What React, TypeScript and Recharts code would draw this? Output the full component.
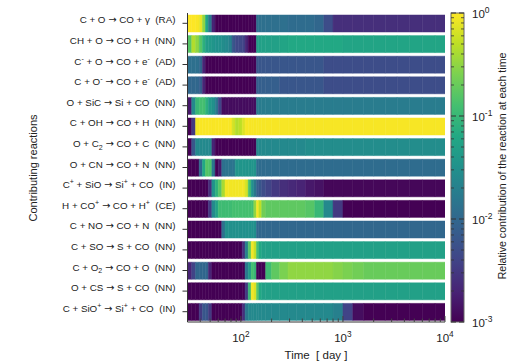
import { BarChart, Bar, Cell, XAxis, YAxis } from "recharts"

// bin edges in days (segment i spans TIME_EDGES[i] .. TIME_EDGES[i + 1])
const TIME_EDGES = [
  30, 33, 36, 39, 42, 45, 48, 52, 56, 60, 65, 70, 76, 82, 88, 95, 103, 110, 118, 126, 134, 142, 150, 160, 175, 200, 240,
  290, 350, 430, 530, 650, 800, 1000, 1250, 1600, 2000, 2600, 3400, 4500, 6000, 8000, 10000,
]

// ^x = superscript, _x = subscript
const REACTIONS = [
  "C + O → CO + γ  (RA)",
  "CH + O → CO + H  (NN)",
  "C^- + O → CO + e^-  (AD)",
  "C + O^- → CO + e^-  (AD)",
  "O + SiC → Si + CO  (NN)",
  "C + OH → CO + H  (NN)",
  "O + C_2 → CO + C  (NN)",
  "O + CN → CO + N  (NN)",
  "C^+ + SiO → Si^+ + CO  (IN)",
  "H + CO^+ → CO + H^+  (CE)",
  "C + NO → CO + N  (NN)",
  "C + SO → S + CO  (NN)",
  "C + O_2 → CO + O  (NN)",
  "O + CS → S + CO  (NN)",
  "C + SiO^+ → Si^+ + CO  (IN)",
]

// log10 of the relative contribution in each time bin
const C_O_RA = [0, 0, -0.02, -0.1, -0.5, -1.2, -1.8, -2.7, -3, -3, -3, -3, -3, -3, -3, -3, -3, -3, -3, -3, -3, -1.9, -1.9, -1.9, -1.9, -1.9, -1.9, -1.95, -1.95, -1.95, -2.0, -2.3, -2.6, -2.6, -2.6, -2.6, -2.6, -2.6, -2.6, -2.6, -2.6, -2.6]
const CH_O_NN = [-0.8, -0.35, -0.5, -0.8, -1.1, -1.35, -1.4, -1.45, -1.5, -1.5, -1.55, -1.6, -1.7, -2.2, -2.35, -2.35, -2.4, -2.7, -3, -3, -3, -1.3, -1.3, -1.3, -1.3, -1.3, -1.25, -1.2, -1.2, -1.2, -1.2, -1.2, -1.2, -1.25, -1.25, -1.25, -1.25, -1.25, -1.25, -1.25, -1.25, -1.25]
const Cm_O_AD = [-1.9, -1.9, -1.9, -2.0, -2.7, -3, -3, -3, -3, -3, -3, -3, -3, -3, -3, -3, -3, -3, -3, -3, -3, -2.2, -2.2, -2.2, -2.2, -2.2, -2.2, -2.2, -2.2, -2.2, -2.2, -2.3, -2.3, -2.3, -2.3, -2.3, -2.3, -2.3, -2.3, -2.3, -2.3, -2.3]
const C_Om_AD = [-2.0, -2.0, -2.0, -2.1, -2.7, -3, -3, -3, -3, -3, -3, -3, -3, -3, -3, -3, -3, -3, -3, -3, -3, -2.1, -2.1, -2.1, -2.1, -2.1, -2.2, -2.2, -2.2, -2.2, -2.2, -2.3, -2.3, -2.3, -2.3, -2.3, -2.3, -2.3, -2.3, -2.3, -2.3, -2.3]
const O_SiC_NN = [-2.8, -1.6, -1.0, -0.9, -0.9, -1.1, -1.4, -1.5, -1.8, -2.4, -2.9, -2.9, -2.9, -2.9, -2.9, -2.9, -2.9, -2.9, -2.9, -2.9, -2.9, -1.75, -1.75, -1.75, -1.75, -1.75, -1.75, -1.75, -1.75, -1.75, -1.75, -1.75, -1.75, -1.75, -1.75, -1.75, -1.75, -1.75, -1.75, -1.75, -1.75, -1.75]
const C_OH_NN = [-3, -2.5, -0.05, -0.02, -0.02, -0.02, -0.02, -0.02, -0.02, -0.02, -0.02, -0.02, -0.02, -0.2, -0.35, -0.3, -0.15, -0.03, -0.03, -0.03, -0.03, -0.03, -0.03, -0.03, -0.03, -0.03, -0.03, -0.03, -0.03, -0.03, -0.03, -0.03, -0.03, -0.03, -0.03, -0.03, -0.03, -0.03, -0.03, -0.03, -0.03, -0.03]
const O_C2_NN = [-3, -2.2, -1.6, -1.6, -1.6, -1.6, -1.6, -2.7, -3, -3, -3, -3, -3, -3, -3, -3, -3, -3, -3, -3, -3, -1.6, -1.6, -1.6, -1.6, -1.6, -1.6, -1.6, -1.6, -1.55, -1.55, -1.55, -1.55, -1.55, -1.55, -1.55, -1.55, -1.55, -1.55, -1.55, -1.55, -1.55]
const O_CN_NN = [-3, -3, -3, -2.0, -1.2, -0.8, -0.85, -1.8, -3, -2.8, -1.9, -1.85, -1.85, -1.85, -1.45, -1.45, -1.45, -1.45, -1.45, -1.45, -1.45, -1.95, -1.95, -1.95, -1.95, -1.95, -1.95, -1.95, -1.95, -1.95, -1.95, -1.95, -1.95, -1.95, -1.95, -1.95, -1.95, -1.95, -1.95, -1.95, -1.95, -1.95]
const Cp_SiO_IN = [-3, -3, -3, -3, -3, -3, -2.6, -1.5, -1.1, -0.8, -0.4, -0.05, -0.05, -0.05, -0.05, -0.05, -0.05, -0.2, -0.9, -1.5, -1.8, -2.1, -2.2, -2.3, -2.4, -2.5, -2.6, -2.65, -2.7, -2.8, -2.85, -2.95, -2.95, -2.95, -2.95, -2.95, -2.95, -2.95, -2.95, -2.95, -2.95, -2.95]
const H_COp_CE = [-3, -3, -3, -3, -3, -3, -2.5, -1.6, -1.3, -0.95, -0.95, -0.95, -0.95, -0.9, -0.9, -0.9, -0.9, -0.9, -0.9, -0.9, -0.5, -0.05, -0.3, -0.65, -0.75, -0.75, -0.75, -0.75, -0.75, -0.8, -1.0, -1.6, -2.5, -3, -3, -3, -3, -3, -3, -3, -3, -3]
const C_NO_NN = [-3, -3, -3, -3, -3, -3, -3, -3, -3, -3, -1.9, -1.5, -1.5, -1.5, -1.5, -1.5, -1.5, -1.5, -1.5, -1.5, -1.5, -2.0, -2.0, -2.0, -2.0, -2.0, -2.0, -2.0, -2.0, -2.0, -2.0, -2.0, -2.0, -2.0, -2.0, -2.0, -2.0, -2.0, -2.0, -2.0, -2.0, -2.0]
const C_SO_NN = [-3, -3, -3, -3, -3, -3, -3, -3, -3, -3, -3, -3, -3, -3, -3, -3, -2.6, -1.7, -0.8, -0.05, -0.25, -0.9, -1.2, -1.3, -1.3, -1.3, -1.3, -1.3, -1.3, -1.3, -1.3, -1.3, -1.3, -1.3, -1.3, -1.3, -1.3, -1.3, -1.3, -1.3, -1.3, -1.3]
const C_O2_NN = [-2.7, -2.4, -2.0, -2.0, -2.0, -2.0, -2.7, -3, -3, -3, -3, -3, -3, -3, -3, -3, -3, -1.8, -1.4, -0.9, -1.0, -3, -3, -3, -0.95, -0.75, -0.6, -0.5, -0.5, -0.5, -0.5, -0.5, -0.55, -0.6, -0.65, -0.7, -0.7, -0.7, -0.7, -0.7, -0.7, -0.7]
const O_CS_NN = [-3, -3, -3, -3, -3, -3, -3, -3, -3, -3, -3, -3, -3, -3, -3, -3, -3, -2.5, -1.0, -0.05, -0.15, -0.8, -1.2, -1.3, -1.3, -1.3, -1.3, -1.3, -1.3, -1.3, -1.3, -1.3, -1.3, -1.3, -1.3, -1.3, -1.3, -1.3, -1.3, -1.3, -1.3, -1.3]
const C_SiOp_IN = [-3, -3, -3, -2.5, -2.2, -2.2, -2.5, -3, -3, -3, -3, -3, -3, -3, -3, -3, -2.6, -1.8, -1.6, -1.6, -1.6, -1.6, -1.6, -1.6, -1.6, -1.6, -1.6, -1.6, -1.6, -1.6, -1.6, -1.6, -1.7, -2.4, -2.9, -3, -3, -3, -3, -3, -3, -3]

const CONTRIBUTIONS = [C_O_RA, CH_O_NN, Cm_O_AD, C_Om_AD, O_SiC_NN, C_OH_NN, O_C2_NN, O_CN_NN, Cp_SiO_IN, H_COp_CE, C_NO_NN, C_SO_NN, C_O2_NN, O_CS_NN, C_SiOp_IN]

const MAJOR_TICKS = [100, 1000, 10000]
const MINOR_TICKS = [40, 50, 60, 70, 80, 90, 200, 300, 400, 500, 600, 700, 800, 900, 2000, 3000, 4000, 5000, 6000, 7000, 8000, 9000]
const COLORBAR_EXPONENTS = [0, -1, -2, -3]

const VIRIDIS = ["#440154", "#482475", "#414487", "#355f8d", "#2a788e", "#21918c", "#22a884", "#44bf70", "#7ad151", "#bddf26", "#fde725"]

const FONT = "'Liberation Sans', Arial, Helvetica, sans-serif"
const ARROW_FONT = "'DejaVu Sans', sans-serif"

function hexRgb(h: string) {
  return [1, 3, 5].map((i) => parseInt(h.slice(i, i + 2), 16))
}

function viridis(t: number) {
  const v = Math.max(0, Math.min(1, t)) * (VIRIDIS.length - 1)
  const i = Math.min(Math.floor(v), VIRIDIS.length - 2)
  const f = v - i
  const a = hexRgb(VIRIDIS[i])
  const b = hexRgb(VIRIDIS[i + 1])
  const c = a.map((x, k) => Math.round(x + (b[k] - x) * f))
  return `rgb(${c[0]},${c[1]},${c[2]})`
}

const logColor = (lg: number) => viridis((lg + 3) / 3)

type Tok = { t: string; k: "n" | "sup" | "sub" | "arrow" }

function tokens(label: string) {
  const out: Tok[] = []
  let cur = ""
  const flush = () => {
    if (cur) out.push({ t: cur, k: "n" })
    cur = ""
  }
  for (let i = 0; i < label.length; i++) {
    const c = label[i]
    if ((c === "^" || c === "_") && i + 1 < label.length) {
      flush()
      out.push({ t: label[i + 1], k: c === "^" ? "sup" : "sub" })
      i++
    } else if (c === "→") {
      flush()
      out.push({ t: c, k: "arrow" })
    } else cur += c
  }
  flush()
  return out
}

function RichSpans({ label, size }: { label: string; size: number }) {
  let offset = 0
  return (
    <>
      {tokens(label).map((tk, i) => {
        const target = tk.k === "sup" ? -size * 0.4 : tk.k === "sub" ? size * 0.3 : 0
        const dy = target - offset
        offset = target
        const small = tk.k === "sup" || tk.k === "sub"
        return (
          <tspan key={i} dy={dy} fontSize={small ? size * 0.72 : size} fontFamily={tk.k === "arrow" ? ARROW_FONT : undefined}>
            {tk.t}
          </tspan>
        )
      })}
    </>
  )
}

function ReactionTick(props: any) {
  const { x, y, payload } = props
  return (
    <text x={x} y={y} dy={3.5} textAnchor="end" fill="#222" fontFamily={FONT} fontSize={9.8} xmlSpace="preserve">
      <RichSpans label={payload.value} size={9.8} />
    </text>
  )
}

function makeTimeTick(side: "top" | "bottom") {
  return (props: any) => {
    const { x, y, payload } = props
    const major = MAJOR_TICKS.includes(payload.value)
    const len = major ? 6 : 3.5
    const dir = side === "bottom" ? -1 : 1
    return (
      <g>
        <line x1={x} y1={y} x2={x} y2={y + dir * len} stroke="#444" strokeWidth={1} />
        {major && side === "bottom" && (
          <text x={x} y={y + 20} textAnchor="middle" fill="#222" fontFamily={FONT} fontSize={11.5}>
            <RichSpans label={`10^${Math.round(Math.log10(payload.value))}`} size={11.5} />
          </text>
        )}
      </g>
    )
  }
}

const BottomTick = makeTimeTick("bottom")
const TopTick = makeTimeTick("top")

const ALL_TICKS = [...MINOR_TICKS, ...MAJOR_TICKS].sort((a, b) => a - b)

// colour bar geometry
const CB_X = 451
const CB_W = 13
const CB_TOP = 13
const CB_BOTTOM = 322
const cbY = (lg: number) => CB_BOTTOM - ((lg + 3) / 3) * (CB_BOTTOM - CB_TOP)

export default function App() {
  const rows = REACTIONS.map((name, i) => ({ name, contrib: CONTRIBUTIONS[i] }))
  const bins = TIME_EDGES.slice(0, -1)

  const cbMinor: number[] = []
  for (let d = -3; d < 0; d++) for (let k = 2; k <= 9; k++) cbMinor.push(d + Math.log10(k))

  return (
    <div style={{ position: "absolute", left: 0, top: 0, width: 518, height: 363, background: "#fff" }}>
      <BarChart
        width={518}
        height={363}
        data={rows}
        layout="vertical"
        margin={{ top: 13, right: 73, bottom: 0, left: 0 }}
        barSize={17}
        barGap={-17}
        barCategoryGap={0}
      >
        <XAxis
          type="number"
          scale="log"
          domain={[30, 10000]}
          allowDataOverflow
          ticks={ALL_TICKS}
          interval={0}
          tickSize={0}
          tickMargin={0}
          tick={BottomTick}
          height={41}
          stroke="#333"
        />
        <XAxis
          xAxisId="top"
          orientation="top"
          type="number"
          scale="log"
          domain={[30, 10000]}
          allowDataOverflow
          ticks={ALL_TICKS}
          interval={0}
          tickSize={0}
          tickMargin={0}
          tick={TopTick}
          height={0}
          stroke="#666"
        />
        <YAxis
          type="category"
          dataKey="name"
          width={187.5}
          interval={0}
          tickSize={5}
          tickMargin={7}
          tick={ReactionTick}
          stroke="#333"
        />
        <YAxis yAxisId="right" orientation="right" type="category" dataKey="name" width={0} tick={false} tickLine={false} stroke="#666" />
        {bins.map((t0, i) => (
          <Bar key={i} dataKey={() => [t0, TIME_EDGES[i + 1]]} isAnimationActive={false}>
            {rows.map((r, j) => (
              <Cell key={j} fill={logColor(r.contrib[i])} stroke={logColor(r.contrib[i])} strokeWidth={0.5} />
            ))}
          </Bar>
        ))}
      </BarChart>

      <svg width={518} height={363} style={{ position: "absolute", left: 0, top: 0, pointerEvents: "none" }}>
        <defs>
          <linearGradient id="viridisBar" x1="0" y1="1" x2="0" y2="0">
            {VIRIDIS.map((c, i) => (
              <stop key={i} offset={i / (VIRIDIS.length - 1)} stopColor={c} />
            ))}
          </linearGradient>
        </defs>
        <text transform="translate(37,168) rotate(-90)" textAnchor="middle" fill="#222" fontFamily={FONT} fontSize={11}>
          Contributing reactions
        </text>
        <text x={316} y={359} textAnchor="middle" fill="#222" fontFamily={FONT} fontSize={11.5} xmlSpace="preserve">
          Time  [ day ]
        </text>

        <rect x={CB_X} y={CB_TOP} width={CB_W} height={CB_BOTTOM - CB_TOP} fill="url(#viridisBar)" stroke="#666" strokeWidth={1} />
        {cbMinor.map((lg, i) => (
          <g key={i} stroke="#333" strokeWidth={0.8}>
            <line x1={CB_X} x2={CB_X + 3} y1={cbY(lg)} y2={cbY(lg)} />
            <line x1={CB_X + CB_W - 3} x2={CB_X + CB_W} y1={cbY(lg)} y2={cbY(lg)} />
          </g>
        ))}
        {COLORBAR_EXPONENTS.map((e) => (
          <g key={e}>
            <line x1={CB_X} x2={CB_X + 5} y1={cbY(e)} y2={cbY(e)} stroke="#333" />
            <line x1={CB_X + CB_W - 5} x2={CB_X + CB_W} y1={cbY(e)} y2={cbY(e)} stroke="#333" />
            <text x={472} y={cbY(e) + 4.5} fill="#222" fontFamily={FONT} fontSize={11.5}>
              <tspan>10</tspan>
              <tspan dy={-5} fontSize={8.5}>
                {e === 0 ? "0" : `-${-e}`}
              </tspan>
            </text>
          </g>
        ))}
        <text transform="translate(506,166) rotate(-90)" textAnchor="middle" fill="#222" fontFamily={FONT} fontSize={10.6}>
          Relative contribution of the reaction at each time
        </text>
      </svg>
    </div>
  )
}
